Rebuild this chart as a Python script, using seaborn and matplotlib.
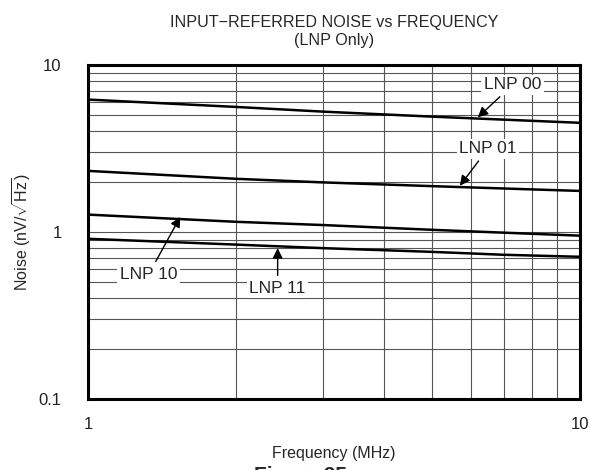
import numpy as np
import pandas as pd
import matplotlib
matplotlib.use("Agg")
import matplotlib.pyplot as plt
import seaborn as sns

# Data (frequency in MHz, noise in nV/rtHz)
freq = [1, 2, 3, 5, 7, 10]
lnp00 = [6.2, 5.6, 5.25, 4.9, 4.7, 4.5]
lnp01 = [2.32, 2.08, 1.98, 1.88, 1.82, 1.76]
lnp10 = [1.27, 1.15, 1.10, 1.03, 0.99, 0.95]
lnp11 = [0.91, 0.84, 0.80, 0.76, 0.73, 0.71]
series_names = ["LNP 00", "LNP 01", "LNP 10", "LNP 11"]

df = pd.DataFrame({
    "freq": freq * 4,
    "noise": lnp00 + lnp01 + lnp10 + lnp11,
    "mode": [n for n in series_names for _ in freq],
})

sns.set_style("white")
plt.rcParams["font.family"] = ["Liberation Sans", "DejaVu Sans"]
plt.rcParams["mathtext.fontset"] = "custom"
plt.rcParams["mathtext.rm"] = "Liberation Sans"

fig = plt.figure(figsize=(5.9, 4.7), dpi=100)
ax = fig.add_axes([0.149, 0.151, 0.834, 0.711])

sns.lineplot(data=df, x="freq", y="noise", units="mode", estimator=None,
             color="black", linewidth=1.8, legend=False, ax=ax)

ax.set_xscale("log")
ax.set_yscale("log")
ax.set_xlim(1, 10)
ax.set_ylim(0.1, 10)

ax.set_xticks([1, 10])
ax.set_xticklabels(["1", "10"])
ax.set_yticks([0.1, 1, 10])
ax.set_yticklabels(["0.1", "1", "10"])
ax.xaxis.set_minor_locator(matplotlib.ticker.LogLocator(base=10, subs=np.arange(2, 10)))
ax.yaxis.set_minor_locator(matplotlib.ticker.LogLocator(base=10, subs=np.arange(2, 10)))
ax.xaxis.set_minor_formatter(matplotlib.ticker.NullFormatter())
ax.yaxis.set_minor_formatter(matplotlib.ticker.NullFormatter())
ax.tick_params(which="both", length=0, labelsize=12, colors="#222222")
ax.tick_params(axis="x", pad=13)
ax.tick_params(axis="y", pad=19)

ax.grid(True, which="both", color="#555555", linewidth=0.8)
ax.set_axisbelow(True)
for s in ax.spines.values():
    s.set_visible(True)
    s.set_color("black")
    s.set_linewidth(2.2)

ax.set_xlabel("Frequency (MHz)", fontsize=11.5, labelpad=10)
ax.set_ylabel(r"Noise (nV/$\sqrt{\mathrm{Hz}}$)", fontsize=11.5)
ax.yaxis.set_label_coords(-0.112, 0.5)
ax.set_title("INPUT\u2212REFERRED NOISE vs FREQUENCY\n(LNP Only)", fontsize=11.6, pad=14,
             linespacing=1.25)

# labels with arrows
notes = [
    ("LNP 00", (6.2, 4.85), (7.3, 7.6)),
    ("LNP 01", (5.7, 1.89), (6.5, 3.15)),
    ("LNP 10", (1.54, 1.23), (1.33, 0.56)),
    ("LNP 11", (2.43, 0.80), (2.43, 0.46)),
]
for label, tip, pos in notes:
    ax.annotate(label, xy=tip, xytext=pos, fontsize=12.5, ha="center", va="center",
                bbox=dict(boxstyle="square,pad=0.15", fc="white", ec="none"),
                arrowprops=dict(arrowstyle="-|>", color="black", lw=1.0,
                                mutation_scale=15, shrinkA=2, shrinkB=0))

fig.text(0.51, 0.008, "Figure 25", fontsize=15, fontweight="bold", ha="center", va="top")

fig.savefig("out.png", dpi=100)
